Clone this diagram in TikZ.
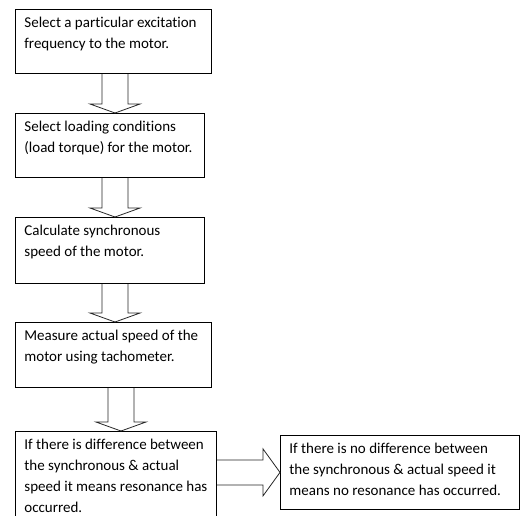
\documentclass[tikz,border=0pt]{standalone}
\usepackage{fontspec}
\setmainfont{Carlito}[Ligatures=CommonOff]
\usetikzlibrary{calc}

% text of a step, kept to the top of its box
\newcommand{\steptext}[3]{\parbox[t][#2pt][t]{#1pt}{\raggedright #3}}
% hollow block arrows between two boxes
\newcommand{\fatdown}[3]{%
  \draw[fatarrow] let \p1=(#2.south), \p2=(#3.north) in
    (#1pt-13pt,\y1) -- (#1pt-13pt,\y2+9pt) -- (#1pt-25pt,\y2+9pt) -- (#1pt,\y2)
    -- (#1pt+25pt,\y2+9pt) -- (#1pt+13pt,\y2+9pt) -- (#1pt+13pt,\y1);}
\newcommand{\fatright}[2]{%
  \draw[fatarrow] let \p1=(#1.east), \p2=(#2.west) in
    (\x1,\y2+12.5pt) -- (\x2-17pt,\y2+12.5pt) -- (\x2-17pt,\y2+23.5pt) -- (\x2,\y2)
    -- (\x2-17pt,\y2-23.5pt) -- (\x2-17pt,\y2-12.5pt) -- (\x1,\y2-12.5pt);}

\begin{document}
\begin{tikzpicture}[x=1pt,y=-1pt]
	\tikzset{stepbox/.style={draw,line width=0.8pt,anchor=north west,inner xsep=9pt,inner ysep=8pt,font=\fontsize{15}{20.8}\selectfont}}
	\tikzset{fatarrow/.style={draw,black!85,line width=0.8pt,line join=miter}}
	\useasboundingbox (0,0) rectangle (525,515);
	\clip (0,0) rectangle (525,515);
	\node[stepbox] (select) at (15,9) {\steptext{178}{48}{Select a particular excitation\\frequency to the motor.}};
	\node[stepbox] (load) at (15,113) {\steptext{171}{48}{Select loading conditions\\(load torque) for the motor.}};
	\node[stepbox] (sync) at (15,217) {\steptext{171}{50}{Calculate synchronous\\speed of the motor.}};
	\node[stepbox] (measure) at (15,322) {\steptext{178}{49}{Measure actual speed of the\\motor using tachometer.}};
	\node[stepbox] (diff) at (15,431) {\steptext{183}{84}{If there is difference between\\the synchronous \& actual\\speed it means resonance has\\occurred.}};
	\node[stepbox] (nodiff) at (280,435) {\steptext{221}{58}{If there is no difference between\\the synchronous \& actual speed it\\means no resonance has occurred.}};
	\fatdown{115}{select}{load}
	\fatdown{115}{load}{sync}
	\fatdown{115}{sync}{measure}
	\fatdown{121}{measure}{diff}
	\fatright{diff}{nodiff}
\end{tikzpicture}
\end{document}
